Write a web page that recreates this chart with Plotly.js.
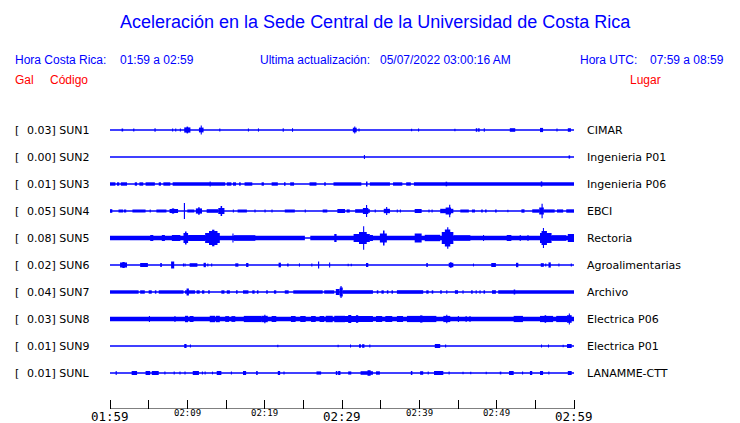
<!DOCTYPE html>
<html>
<head>
<meta charset="utf-8">
<script src="https://cdn.plot.ly/plotly-3.0.1.min.js"></script>
<style>html,body{margin:0;padding:0;background:#fff;}#chart{width:740px;height:423px;}</style>
</head>
<body>
<div id="chart"></div>
<script>
// ---------------- DATA ----------------
const titleText = "Aceleración en la Sede Central de la Universidad de Costa Rica";
const horaCR = "01:59 a 02:59";
const ultima = "05/07/2022 03:00:16 AM";
const horaUTC = "07:59 a 08:59";

const codes  = ["SUN1","SUN2","SUN3","SUN4","SUN5","SUN6","SUN7","SUN8","SUN9","SUNL"];
const galMax = ["0.03","0.00","0.01","0.05","0.08","0.02","0.04","0.03","0.01","0.01"];
const places = ["CIMAR","Ingenieria P01","Ingenieria P06","EBCI","Rectoria","Agroalimentarias","Archivo","Electrica P06","Electrica P01","LANAMME-CTT"];

// minutes since 01:59 for axis ticks / labels
const tickMinutes = [0,5,10,15,20,25,30,35,40,45,50,55,60];
const labelMinutes = [0,10,20,30,40,50,60];
const labelTexts = ["01:59","02:09","02:19","02:29","02:39","02:49","02:59"];
const labelMajor = [true,false,false,true,false,false,true];

// envelope segments per station: [start minute, end minute, half amplitude]
const SUN1 = [[1.5,1.7,1.5],[3.0,3.15,1.5],[5.75,5.9,1.8],[8.05,8.15,1.5],[8.45,8.55,1.5],[9.05,9.15,1.5],
 [9.6,10.4,2.6],[9.9,10.1,3.4],[11.5,12.1,2.4],[11.75,11.85,4.6],[14.15,14.25,1.5],[17.85,17.95,1.6],[19.15,19.25,1.6],[22.35,22.45,1.8],[23.55,23.65,1.8],
 [31.4,31.9,2.3],[31.6,31.7,3.5],[32.15,32.25,1.5],[38.95,39.05,1.3],[39.85,39.95,1.5],[44.55,44.65,1.2],[47.3,47.5,1.8],[47.6,47.8,1.8],[48.35,48.45,1.8],[51.7,52.4,1.8],[55.6,56.0,2.1],[57.75,57.85,1.5],[59.2,59.6,1.8]];
const SUN2 = [[32.85,32.95,2.0],[59.3,59.5,1.6]];
const SUN3 = [[0,0.7,1.7],[0.9,1.2,1.7],[1.4,2.2,1.7],[3.2,3.5,1.7],[3.8,4.3,1.7],[4.6,5.8,1.7],[6.3,6.6,1.7],[6.9,7.8,1.7],[8.1,14.9,1.7],
 [15.1,15.7,1.7],[15.9,16.3,1.7],[16.7,16.9,1.7],[17.4,18.4,1.7],[19.6,19.9,1.7],[20.9,21.7,1.7],[22.5,22.7,1.7],[23.3,23.8,1.7],[25.8,26.7,1.7],
 [27.7,27.9,1.7],[28.9,32.5,1.7],[33.6,36.2,1.7],[36.6,37.8,1.7],[38.3,38.9,1.7],[39.3,60,1.7],
 [12.9,13.0,2.5],[33.1,33.3,2.5],[43.4,43.6,2.3],[55.7,55.9,2.6]];
const SUN4 = [[0,0.3,1.8],[1.1,1.7,1.5],[1.8,2.1,1.5],[2.9,4.6,1.5],[5.15,5.25,1.4],[6.0,7.3,1.5],[7.7,8.8,2.0],[8.0,8.3,2.6],[9.55,9.7,8.0],
 [10.0,10.9,1.5],[11.1,11.9,2.6],[11.4,11.6,3.8],[12.5,14.0,1.8],[14.0,14.8,3.0],[14.3,14.5,5.0],[15.9,16.0,1.5],[16.5,17.7,1.5],[18.7,18.8,1.4],
 [20.0,20.1,1.4],[20.9,21.0,1.4],[22.6,23.9,1.5],[25.2,25.3,1.4],[27.5,28.1,1.5],[29.4,30.4,2.0],
 [30.6,31.0,1.6],[31.7,33.6,1.8],[32.7,33.4,3.0],[33.1,33.25,6.0],[34.25,34.35,1.4],[35.4,36.2,2.2],[35.7,35.85,4.0],[37.1,37.2,1.4],[37.5,37.6,1.4],
 [39.4,40.3,2.0],[41.2,41.3,1.5],[41.6,41.7,1.5],[42.7,44.4,2.2],[43.4,44.1,3.5],[43.85,44.0,6.2],[45.3,46.4,1.5],[46.8,47.2,1.5],[48.0,48.2,1.4],
 [48.5,48.7,1.4],[49.8,50.0,1.4],[51.4,51.5,1.3],[53.2,53.6,1.7],[54.6,55.5,1.7],[55.5,56.1,3.5],[55.8,55.95,7.2],[56.1,57.5,1.6],[57.8,58.6,1.6],[59.0,60,1.7]];
const SUN5 = [[0,25.2,2.3],[25.9,60,2.3],[5.2,5.6,3.0],[6.7,7.1,3.0],[8.0,9.1,3.0],[9.5,10.1,5.0],[9.7,9.9,6.5],[10.1,12.3,3.0],[12.3,14.2,5.0],
 [12.8,13.9,7.0],[13.2,13.5,8.3],[15.85,15.95,4.5],[16.0,18.8,2.8],[29.0,29.3,4.0],
 [31.5,33.6,4.0],[32.2,33.2,6.0],[32.75,32.85,11.7],[33.6,34.0,3.0],[34.9,35.8,4.5],[35.3,35.5,7.5],[39.4,40.3,4.5],[40.7,42.7,3.2],[42.9,44.4,6.0],
 [43.3,44.0,8.5],[43.6,43.75,10.8],[44.4,46.6,2.8],[48.25,48.35,3.0],[51.3,51.9,3.0],[53.0,53.1,3.0],[54.0,54.1,3.0],[55.6,57.1,5.0],[55.8,56.5,7.0],
 [56.0,56.1,10.0],[57.1,59.0,2.8],[59.2,60,4.0]];
const SUN6 = [[1.3,2.2,2.5],[1.6,1.9,3.0],[3.9,4.9,2.0],[6.5,6.7,2.0],[7.9,8.3,3.5],[9.45,9.55,1.5],[9.65,9.75,1.5],[10.3,11.3,1.8],[12.1,12.4,2.2],
 [12.6,12.7,1.5],[13.1,13.2,1.5],[16.2,16.6,1.7],[17.6,17.9,2.0],[21.8,22.1,2.3],[22.9,23.1,1.5],[24.45,24.55,1.6],[26.05,26.15,1.6],[26.9,27.05,3.5],
 [28.35,28.45,2.5],[30.75,30.85,1.3],[31.15,31.25,1.3],[33.1,33.4,2.0],[40.9,41.1,2.0],[43.8,44.4,2.2],[44.0,44.15,3.0],[46.95,47.05,1.4],
 [49.3,49.9,2.0],[52.5,52.8,2.2],[55.7,56.1,1.8],[56.3,56.4,1.6],[56.7,57.0,2.6],[58.0,58.1,1.5],[59.6,59.7,1.5]];
const SUN7 = [[0,3.7,1.7],[3.9,4.5,1.7],[5.0,5.4,1.7],[5.8,6.0,1.7],[6.3,9.5,1.7],[9.7,11.0,1.7],[11.2,11.6,1.7],[11.9,12.2,1.7],[12.7,12.9,1.7],
 [14.4,14.8,1.7],[15.1,15.5,1.7],[16.3,16.5,1.7],[17.2,17.9,1.7],[18.4,18.7,1.7],[19.0,19.2,1.7],[20.2,20.4,1.7],[21.2,21.5,1.7],[22.6,23.1,1.7],
 [23.7,27.5,1.7],[27.7,29.0,1.7],[9.9,10.2,3.5],[29.2,29.7,3.0],[29.7,30.1,4.5],[29.8,29.95,6.0],
 [30.1,34.0,1.8],[34.5,34.7,1.7],[35.1,35.4,1.7],[35.8,36.0,1.7],[36.4,36.6,1.7],[37.1,40.5,1.8],[40.9,41.2,1.7],[41.6,41.8,1.7],[42.7,42.9,1.7],
 [43.5,43.6,1.7],[44.6,45.0,1.8],[45.6,45.7,1.7],[46.7,46.9,1.7],[47.3,47.4,1.7],[47.8,47.9,1.7],[48.3,48.5,1.7],[49.4,49.9,1.8],[50.2,60,1.8],[52.2,52.4,2.5]];
const SUN8 = [[0,60,2.3],[5.05,5.15,3.0],[8.35,8.45,3.0],[9.7,10.1,3.2],[10.3,10.8,3.0],[12.9,13.6,3.2],[13.7,14.2,3.2],[14.9,15.4,2.9],[15.7,16.2,2.9],
 [17.3,19.6,3.1],[19.6,20.4,3.2],[19.95,20.1,4.2],[20.9,21.5,3.0],[23.4,24.0,3.0],[24.6,25.3,3.0],[26.0,26.6,3.0],[27.1,27.7,3.0],[27.9,28.8,3.2],
 [29.0,30.4,3.2],[29.7,34.0,3.1],[30.8,31.2,4.0],[31.8,32.1,3.8],[34.4,35.2,3.0],[35.6,36.5,3.0],[37.1,37.9,3.0],[38.4,42.2,3.1],[40.1,40.4,3.6],
 [43.1,44.0,3.1],[43.5,43.6,4.2],[45.0,45.1,3.0],[46.0,46.1,3.0],[46.5,46.6,3.0],[52.2,53.4,3.1],[55.6,57.3,3.1],[56.2,56.4,3.8],[57.7,59.1,3.1],
 [59.1,59.7,3.8],[59.35,59.45,5.5]];
const SUN9 = [[9.6,9.9,2.0],[10.35,10.45,1.5],[21.65,21.75,1.3],[29.45,29.55,1.3],[31.05,31.15,1.5],[32.2,32.45,1.8],[32.6,32.9,1.8],[33.55,33.65,1.4],
 [42.0,42.7,2.0],[43.35,43.45,1.4],[55.75,55.85,1.5],[56.65,56.75,1.5],[58.55,58.65,1.3],[59.1,59.7,2.0]];
const SUNL = [[0.75,0.85,2.0],[2.8,3.5,2.0],[4.6,5.2,2.0],[5.4,6.3,2.0],[7.05,7.15,1.4],[8.25,8.35,1.4],[9.0,9.1,1.4],[9.65,9.75,1.4],[10.7,11.5,2.0],
 [11.9,12.0,1.4],[12.25,12.35,1.4],[13.2,13.3,1.4],[13.8,14.4,2.0],[15.65,15.75,1.4],[17.2,17.6,2.0],[18.9,19.1,2.0],[21.7,22.0,2.0],[22.45,22.55,1.4],
 [26.7,27.3,1.6],[29.2,29.4,2.0],[29.5,29.8,2.0],[30.8,31.2,1.6],[32.4,34.0,1.8],[33.3,33.7,2.8],[34.4,34.9,1.7],[38.9,39.1,2.0],[40.1,40.5,1.8],
 [41.1,41.2,1.4],[41.9,43.1,2.0],[43.8,43.9,1.4],[45.6,45.7,1.3],[46.6,46.7,1.3],[48.6,48.7,1.3],[50.4,50.6,1.4],[51.6,52.2,2.0],[53.3,53.4,1.4],
 [54.3,54.6,2.0],[55.6,56.0,2.0],[56.7,56.8,1.4],[59.2,59.7,2.0]];

const stations = [SUN1,SUN2,SUN3,SUN4,SUN5,SUN6,SUN7,SUN8,SUN9,SUNL];

// ---------------- LAYOUT / RENDER ----------------
const W = 740, H = 423;
const X0 = 110, X1 = 574;          // pixel positions of minute 0 and minute 60
const EDGE = 3;                    // extra pixels so end ticks are not clipped
const L = X0 - EDGE, R = X1 + EDGE, T = 116, B = 409;
const PW = R - L, PH = B - T;
const pxPerMin = (X1 - X0) / 60;
const xPad = EDGE / pxPerMin;
const firstRowPx = 130, rowGap = 27;
const BLUE = "#0000ff";
const px2x = p => (p - L) / PW;
const py2y = p => (B - p) / PH;
const rowY = i => B - (firstRowPx + rowGap * i);   // y data value (axis is pixel-scaled)

const traces = [];
stations.forEach((segs, i) => {
  const off = rowY(i);
  traces.push({type:"scatter", mode:"lines", x:[0,60], y:[off,off],
    line:{color:BLUE, width:1.6}, hoverinfo:"skip", showlegend:false});
  traces.push({type:"bar",
    x: segs.map(s => (s[0]+s[1])/2),
    width: segs.map(s => Math.max(s[1]-s[0], 0.14)),
    base: segs.map(s => off - s[2]),
    y: segs.map(s => 2*s[2]),
    marker:{color:BLUE, line:{width:0}}, hoverinfo:"skip", showlegend:false});
});

const ann = [];
const txt = (text, xp, yp, size, color, family, anchor) => ann.push({
  text, xref:"paper", yref:"paper", x:px2x(xp), y:py2y(yp), xanchor:anchor||"left", yanchor:"middle",
  showarrow:false, font:{size, color, family}, borderpad:0, borderwidth:0});

const SANS = "Liberation Sans, Arial, sans-serif";
const DJ = "DejaVu Sans, sans-serif";
const MONO = "DejaVu Sans Mono, monospace";

txt(titleText, 375, 22, 18, BLUE, SANS, "center");
txt("Hora Costa Rica:", 15, 60, 12, BLUE, SANS);
txt(horaCR, 120, 60, 12, BLUE, SANS);
txt("Ultima actualización:", 260, 60, 12, BLUE, SANS);
txt(ultima, 380, 60, 12, BLUE, SANS);
txt("Hora UTC:", 580, 60, 12, BLUE, SANS);
txt(horaUTC, 650, 60, 12, BLUE, SANS);
txt("Gal", 15, 80, 12, "#ff0000", SANS);
txt("Código", 50, 80, 12, "#ff0000", SANS);
txt("Lugar", 630, 80, 12, "#ff0000", SANS);

codes.forEach((c, i) => {
  const yp = firstRowPx + rowGap * i;
  txt("[", 15, yp, 11, "#000", DJ);
  txt(galMax[i] + "] " + c, 27, yp, 11, "#000", DJ);
  txt(places[i], 587, yp, 11, "#000", DJ);
});

labelMinutes.forEach((m, k) => {
  const major = labelMajor[k];
  ann.push({text:labelTexts[k], xref:"x", yref:"paper", x:m, y:py2y(major ? 416 : 413),
    xanchor:"center", yanchor:"middle", showarrow:false, borderpad:0, borderwidth:0,
    font:{size: major ? 12.5 : 9, color:"#000", family:MONO}});
});

const layout = {
  width:W, height:H,
  margin:{l:L, r:W-R, t:T, b:H-B, pad:0},
  paper_bgcolor:"#fff", plot_bgcolor:"#fff",
  showlegend:false, barmode:"overlay",
  xaxis:{range:[-xPad, 60 + xPad], tickvals:tickMinutes, showticklabels:false, ticks:"inside", ticklen:9,
    tickcolor:"#000", tickwidth:1, showline:false, showgrid:false, zeroline:false, fixedrange:true},
  yaxis:{range:[0,PH], visible:false, showgrid:false, zeroline:false, fixedrange:true},
  annotations:ann
};

// axis baseline spanning exactly minute 0..60 (drawn through the x axis scale)
traces.push({type:"scatter", mode:"lines", x:[0,60], y:[0,0], line:{color:"#000", width:1},
  hoverinfo:"skip", showlegend:false, cliponaxis:false});

Plotly.newPlot("chart", traces, layout, {displayModeBar:false, staticPlot:true});
</script>
</body>
</html>
